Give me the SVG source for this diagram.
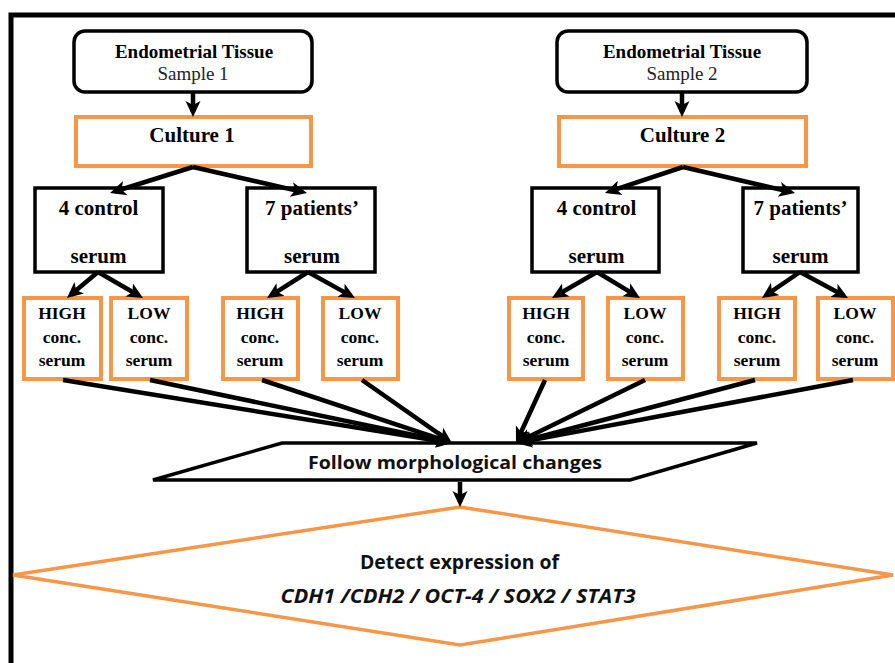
<svg xmlns="http://www.w3.org/2000/svg" width="895" height="663" viewBox="0 0 895 663">
<style>
.bk{fill:#fff;stroke:#000;stroke-width:3.5}
.or{fill:#fff;stroke:#F79646;stroke-width:4}
.sb{font-family:"Liberation Serif",serif;font-weight:bold;text-anchor:middle;fill:#000}
.sr{font-family:"Liberation Serif",serif;text-anchor:middle;fill:#222}
.ss{font-family:"Open Sans",Lato,sans-serif;font-weight:bold;text-anchor:middle;fill:#111}
.cn{stroke:#000;stroke-width:4.5;fill:none;marker-end:url(#ah)}
</style>
<defs>
<marker id="ah" markerUnits="userSpaceOnUse" markerWidth="20" markerHeight="20" refX="11" refY="8" orient="auto">
<path d="M0,0.5 L16,8 L0,15.5 L4,8 z" fill="#000"/>
</marker>
</defs>
<rect width="895" height="663" fill="#fff"/>
<path d="M11,663 V15 H895" fill="none" stroke="#000" stroke-width="5"/>

<g id="tissue1"><rect class="bk" x="74" y="31" width="238" height="61" rx="11"/>
<text class="sb" x="194" y="58" font-size="19">Endometrial Tissue</text>
<text class="sr" x="193" y="80" font-size="19">Sample 1</text></g>
<g id="tissue2"><rect class="bk" x="557" y="31" width="250" height="61" rx="11"/>
<text class="sb" x="682" y="58" font-size="19">Endometrial Tissue</text>
<text class="sr" x="682" y="80" font-size="19">Sample 2</text></g>

<g id="culture1"><rect class="or" x="76" y="117" width="235" height="49"/>
<text class="sb" x="192" y="142" font-size="21">Culture 1</text></g>
<g id="culture2"><rect class="or" x="559" y="117" width="247" height="49"/>
<text class="sb" x="682.5" y="142" font-size="21">Culture 2</text></g>

<g id="control1"><rect class="bk" x="35" y="188" width="128" height="84"/>
<text class="sb" x="98.5" y="215" font-size="21">4 control</text>
<text class="sb" x="98.5" y="263" font-size="21">serum</text></g>
<g id="patients1"><rect class="bk" x="247" y="188" width="128" height="84"/>
<text class="sb" x="312" y="215" font-size="21">7 patients’</text>
<text class="sb" x="312" y="263" font-size="21">serum</text></g>
<g id="control2"><rect class="bk" x="532" y="188" width="127" height="84"/>
<text class="sb" x="596.5" y="215" font-size="21">4 control</text>
<text class="sb" x="596.5" y="263" font-size="21">serum</text></g>
<g id="patients2"><rect class="bk" x="743" y="188" width="115" height="84"/>
<text class="sb" x="800.5" y="215" font-size="21">7 patients’</text>
<text class="sb" x="800.5" y="263" font-size="21">serum</text></g>

<g id="high1"><rect class="or" x="24" y="298" width="77" height="81"/>
<text class="sb" x="62" y="319" font-size="17.5">HIGH</text><text class="sb" x="62" y="343" font-size="17.5">conc.</text><text class="sb" x="62" y="366" font-size="17.5">serum</text></g>
<g id="low1"><rect class="or" x="111" y="298" width="76" height="81"/>
<text class="sb" x="149" y="319" font-size="17.5">LOW</text><text class="sb" x="149" y="343" font-size="17.5">conc.</text><text class="sb" x="149" y="366" font-size="17.5">serum</text></g>
<g id="high2"><rect class="or" x="223" y="298" width="75" height="81"/>
<text class="sb" x="260" y="319" font-size="17.5">HIGH</text><text class="sb" x="260" y="343" font-size="17.5">conc.</text><text class="sb" x="260" y="366" font-size="17.5">serum</text></g>
<g id="low2"><rect class="or" x="323" y="298" width="75" height="81"/>
<text class="sb" x="360" y="319" font-size="17.5">LOW</text><text class="sb" x="360" y="343" font-size="17.5">conc.</text><text class="sb" x="360" y="366" font-size="17.5">serum</text></g>
<g id="high3"><rect class="or" x="509" y="298" width="74" height="81"/>
<text class="sb" x="546" y="319" font-size="17.5">HIGH</text><text class="sb" x="546" y="343" font-size="17.5">conc.</text><text class="sb" x="546" y="366" font-size="17.5">serum</text></g>
<g id="low3"><rect class="or" x="608" y="298" width="75" height="81"/>
<text class="sb" x="645" y="319" font-size="17.5">LOW</text><text class="sb" x="645" y="343" font-size="17.5">conc.</text><text class="sb" x="645" y="366" font-size="17.5">serum</text></g>
<g id="high4"><rect class="or" x="719" y="298" width="76" height="81"/>
<text class="sb" x="757" y="319" font-size="17.5">HIGH</text><text class="sb" x="757" y="343" font-size="17.5">conc.</text><text class="sb" x="757" y="366" font-size="17.5">serum</text></g>
<g id="low4"><rect class="or" x="818" y="298" width="75" height="81"/>
<text class="sb" x="855" y="319" font-size="17.5">LOW</text><text class="sb" x="855" y="343" font-size="17.5">conc.</text><text class="sb" x="855" y="366" font-size="17.5">serum</text></g>

<g id="follow"><polygon class="bk" stroke-width="3" points="282,443 757,443 630,480 153,480"/>
<text class="ss" x="455" y="469" font-size="18.5" textLength="294" lengthAdjust="spacingAndGlyphs">Follow morphological changes</text></g>

<g id="detect"><polygon fill="#fff" stroke="#F79646" stroke-width="3.5" points="13,575 460,507 893,575 460,645"/>
<text class="ss" x="459.5" y="569" font-size="19.5" textLength="199" lengthAdjust="spacingAndGlyphs">Detect expression of</text>
<text class="ss" x="458" y="603" font-size="19.5" font-style="italic" textLength="355" lengthAdjust="spacingAndGlyphs">CDH1 /CDH2 / OCT-4 / SOX2 / STAT3</text></g>

<g id="connectors">
<line class="cn" x1="193" y1="92" x2="193" y2="112"/>
<line class="cn" x1="682" y1="92" x2="682" y2="112"/>
<line class="cn" x1="193" y1="167" x2="114.8" y2="191.5"/>
<line class="cn" x1="193" y1="167" x2="302.1" y2="191.9"/>
<line class="cn" x1="683" y1="167" x2="609.7" y2="191.4"/>
<line class="cn" x1="683" y1="167" x2="790.1" y2="191.9"/>
<line class="cn" x1="98" y1="272" x2="70.8" y2="294.8"/>
<line class="cn" x1="98" y1="272" x2="138.7" y2="295.5"/>
<line class="cn" x1="308" y1="272" x2="271.2" y2="295.4"/>
<line class="cn" x1="308" y1="272" x2="350.6" y2="295.6"/>
<line class="cn" x1="597" y1="272" x2="556.3" y2="295.5"/>
<line class="cn" x1="597" y1="272" x2="635.7" y2="295.4"/>
<line class="cn" x1="800" y1="272" x2="766.1" y2="295.2"/>
<line class="cn" x1="800" y1="272" x2="843.6" y2="295.6"/>
<line class="cn" x1="63" y1="380" x2="447.1" y2="442.2"/>
<line class="cn" x1="150" y1="380" x2="447.1" y2="442"/>
<line class="cn" x1="262" y1="380" x2="447.3" y2="441.4"/>
<line class="cn" x1="362" y1="380" x2="447.9" y2="440.1"/>
<line class="cn" x1="545" y1="380" x2="518.1" y2="438.5"/>
<line class="cn" x1="645" y1="380" x2="520.5" y2="440.8"/>
<line class="cn" x1="755" y1="380" x2="520.8" y2="441.7"/>
<line class="cn" x1="853" y1="380" x2="520.9" y2="442.1"/>
<line class="cn" x1="460" y1="482" x2="460" y2="502"/>
</g>
</svg>
